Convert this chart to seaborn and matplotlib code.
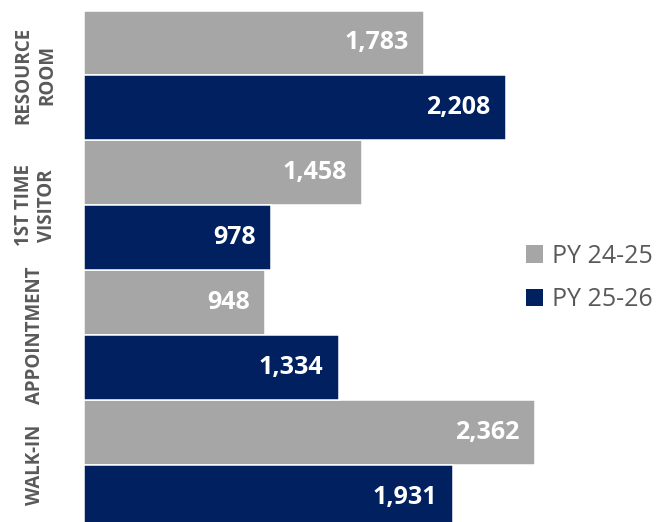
import matplotlib
matplotlib.use("Agg")
import matplotlib.pyplot as plt
import seaborn as sns
import pandas as pd

categories = ["RESOURCE\nROOM", "1ST TIME\nVISITOR", "APPOINTMENT", "WALK-IN"]
series = ["PY 24-25", "PY 25-26"]
py_24_25 = [1783, 1458, 948, 2362]
py_25_26 = [2208, 978, 1334, 1931]
colors = ["#A6A6A6", "#002060"]

sns.set_theme(style="white")
plt.rcParams["font.family"] = ["Open Sans", "DejaVu Sans"]

rows = []
for c, a, b in zip(categories, py_24_25, py_25_26):
    rows.append({"cat": c, "series": series[0], "val": a})
    rows.append({"cat": c, "series": series[1], "val": b})
df = pd.DataFrame(rows)

fig = plt.figure(figsize=(6.61, 5.22), dpi=100)
ax = fig.add_axes([84 / 661, 0, (540 - 84) / 661, 1])
sns.barplot(data=df, x="val", y="cat", hue="series", orient="h",
            palette=colors, saturation=1, width=1.0, edgecolor="white",
            linewidth=1.1, order=categories, hue_order=series, ax=ax,
            errorbar=None)

ax.set_xlim(0, 2388)
ax.set_ylim(3.438, -0.581)
for s in ax.spines.values():
    s.set_visible(False)
ax.set_xticks([])
ax.set_xlabel("")
ax.set_ylabel("")
for lbl in ax.get_yticklabels():
    lbl.set_rotation(90)
    lbl.set_ha("center")
    lbl.set_va("center")
    lbl.set_rotation_mode("anchor")
    lbl.set_fontsize(13.5)
    lbl.set_fontweight("bold")
    lbl.set_color("#595959")
    lbl.set_linespacing(1.25)
ax.tick_params(axis="y", length=0, pad=35)

for cont in ax.containers:
    for p in cont.patches:
        w = p.get_width()
        ax.annotate(f"{int(round(w)):,}", (w, p.get_y() + p.get_height() / 2),
                    xytext=(-11, 0), textcoords="offset points",
                    ha="right", va="center", color="white",
                    fontsize=18, fontweight="bold")

leg = ax.legend(loc="center left", bbox_to_anchor=(503 / 661, 1 - 278 / 522),
                bbox_transform=fig.transFigure, frameon=False,
                handlelength=0.7, handleheight=0.7, handletextpad=0.35,
                labelspacing=0.75, fontsize=18, labelcolor="#595959")
for h in leg.legend_handles:
    h.set_edgecolor("none")

fig.savefig("out.png", dpi=100)
